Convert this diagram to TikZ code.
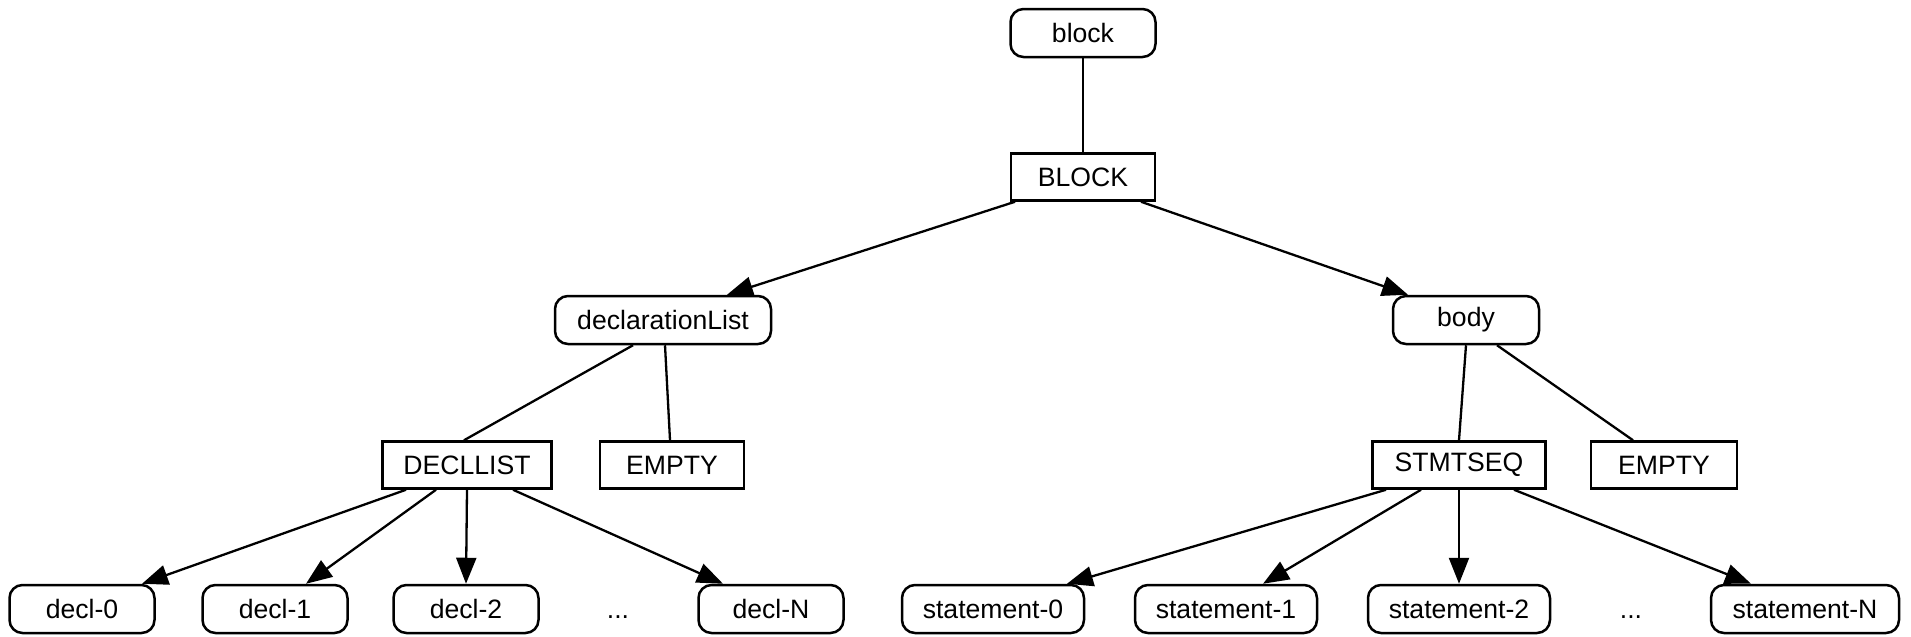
\documentclass[tikz,border=0pt]{standalone}
\usepackage{fontspec}
\setmainfont{Liberation Sans}
\usetikzlibrary{calc,arrows.meta}
\begin{document}
\begin{tikzpicture}[x=0.5pt,y=-0.5pt,
  lbl/.style={font=\fontsize{13.3}{16}\selectfont},
  rnode/.style={lbl, draw, rounded corners=6.5pt, line width=1.25pt, minimum height=24pt, inner sep=0pt},
  rect/.style={lbl, draw, line width=1.25pt, minimum height=23.5pt, inner sep=0pt},
  edge/.style={line width=1.15pt},
  arr/.style={edge, -{Triangle[length=13pt,width=10pt]}}]
\fill[white] (0,0) rectangle (1911,637);
\useasboundingbox (0,0) rectangle (1911,637);
% top
\node[rnode, minimum width=72.5pt] (block) at (1083,33) {block};
\node[rect, minimum width=72pt] (BLOCK) at (1083,177) {BLOCK};
% second level
\node[rnode, minimum width=108pt] (declarationList) at (663,320) {declarationList};
\node[rnode, minimum width=73pt] (body) at (1466,320) {body};
% third level
\node[rect, minimum width=84.5pt] (DECLLIST) at (467,465) {DECLLIST};
\node[rect, minimum width=72pt] (EMPTY1) at (672,465) {EMPTY};
\node[rect, minimum width=86.5pt] (STMTSEQ) at (1459,465) {STMTSEQ};
\node[rect, minimum width=73pt] (EMPTY2) at (1664,465) {EMPTY};
% bottom
\node[rnode, minimum width=72.5pt] (decl0) at (82,609) {decl-0};
\node[rnode, minimum width=72.5pt] (decl1) at (275,609) {decl-1};
\node[rnode, minimum width=72.5pt] (decl2) at (466,609) {decl-2};
\node[lbl, inner sep=0pt] (dots1) at (618,609) {\vphantom{decl}...};
\node[rnode, minimum width=72.5pt] (declN) at (771,609) {decl-N};
\node[rnode, minimum width=91pt] (st0) at (993,609) {statement-0};
\node[rnode, minimum width=91pt] (st1) at (1226,609) {statement-1};
\node[rnode, minimum width=91pt] (st2) at (1459,609) {statement-2};
\node[lbl, inner sep=0pt] (dots2) at (1631,609) {\vphantom{decl}...};
\node[rnode, minimum width=94pt] (stN) at (1805,609) {statement-N};
% edges
\draw[edge] (block.south) -- (BLOCK.north);
\draw[arr] ($(BLOCK.south)+(-68,0)$) -- ($(declarationList.north)+(64,0)$);
\draw[arr] ($(BLOCK.south)+(58,0)$) -- ($(body.north)+(-58,0)$);
\draw[edge] ($(declarationList.south)+(-30,0)$) -- ($(DECLLIST.north)+(-3,0)$);
\draw[edge] ($(declarationList.south)+(2,0)$) -- ($(EMPTY1.north)+(-2,0)$);
\draw[edge] (body.south) -- (STMTSEQ.north);
\draw[edge] ($(body.south)+(31,0)$) -- ($(EMPTY2.north)+(-31,0)$);
\draw[arr] ($(DECLLIST.south)+(-61,0)$) -- ($(decl0.north)+(60,0)$);
\draw[arr] ($(DECLLIST.south)+(-31,0)$) -- ($(decl1.north)+(31,0)$);
\draw[arr] (DECLLIST.south) -- (decl2.north);
\draw[arr] ($(DECLLIST.south)+(46,0)$) -- ($(declN.north)+(-48,0)$);
\draw[arr] ($(STMTSEQ.south)+(-73,0)$) -- ($(st0.north)+(74,0)$);
\draw[arr] ($(STMTSEQ.south)+(-38,0)$) -- ($(st1.north)+(37,0)$);
\draw[arr] (STMTSEQ.south) -- (st2.north);
\draw[arr] ($(STMTSEQ.south)+(55,0)$) -- ($(stN.north)+(-54,0)$);
\end{tikzpicture}
\end{document}
